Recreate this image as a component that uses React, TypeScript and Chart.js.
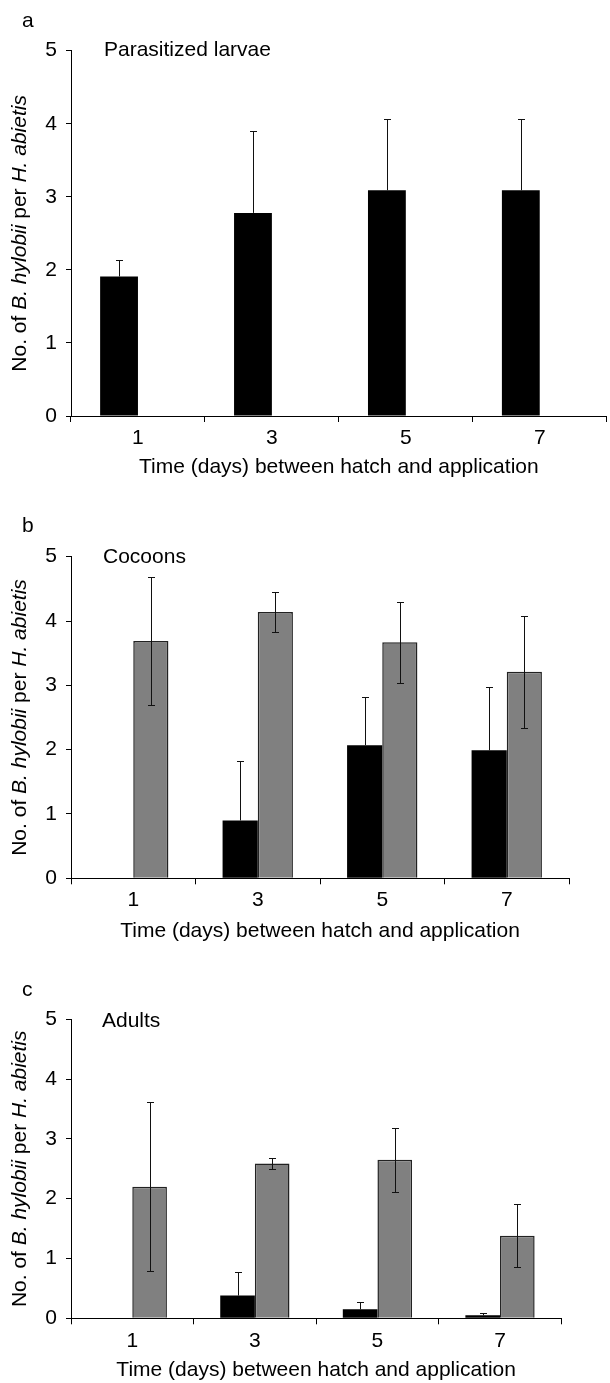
import React, { useEffect, useRef } from "react";
import { Chart, registerables } from "chart.js";

Chart.register(...registerables);

const CATEGORIES = ["1", "3", "5", "7"];

// Panel a: Parasitized larvae
const A_BLACK = [1.91, 2.78, 3.09, 3.09];
const A_BLACK_ERR = [0.22, 1.12, 0.97, 0.97];
const A_GRAY: (number | null)[] = [null, null, null, null];
const A_GRAY_ERR: (number | null)[] = [null, null, null, null];

// Panel b: Cocoons
const B_BLACK: (number | null)[] = [null, 0.9, 2.07, 1.99];
const B_BLACK_ERR: (number | null)[] = [null, 0.92, 0.75, 0.99];
const B_GRAY = [3.69, 4.14, 3.67, 3.21];
const B_GRAY_ERR = [0.99, 0.31, 0.63, 0.87];

// Panel c: Adults
const C_BLACK: (number | null)[] = [null, 0.38, 0.15, 0.05];
const C_BLACK_ERR: (number | null)[] = [null, 0.4, 0.13, 0.04];
const C_GRAY = [2.2, 2.59, 2.65, 1.38];
const C_GRAY_ERR = [1.41, 0.09, 0.53, 0.53];

const Y_TICKS = [0, 1, 2, 3, 4, 5];
const X_TITLE = "Time (days) between hatch and application";
const Y_TITLE_PARTS = [
  { t: "No. of ", i: false },
  { t: "B. hylobii", i: true },
  { t: " per ", i: false },
  { t: "H. abietis", i: true },
];

const FONT_FAMILY = '"Liberation Sans", Arial, Helvetica, sans-serif';
const FONT_SIZE = 21;

type PanelDef = {
  top: number;
  height: number;
  plotTop: number;
  plotBottom: number;
  plotRight: number;
  tickPad: number;
  titlePad: number;
  letter: string;
  letterBase: number;
  label: string;
  labelX: number;
  labelBase: number;
  black: (number | null)[];
  blackErr: (number | null)[];
  gray: (number | null)[];
  grayErr: (number | null)[];
};

const PANELS: PanelDef[] = [
  {
    top: 0, height: 480, plotTop: 50.7, plotBottom: 416, plotRight: 606.7,
    tickPad: 3.7, titlePad: 0,
    letter: "a", letterBase: 26.7, label: "Parasitized larvae", labelX: 104, labelBase: 56,
    black: A_BLACK, blackErr: A_BLACK_ERR, gray: A_GRAY, grayErr: A_GRAY_ERR,
  },
  {
    top: 480, height: 465, plotTop: 76.7, plotBottom: 398.3, plotRight: 569,
    tickPad: 3.1, titlePad: 1.3,
    letter: "b", letterBase: 51.7, label: "Cocoons", labelX: 103, labelBase: 83.3,
    black: B_BLACK, blackErr: B_BLACK_ERR, gray: B_GRAY, grayErr: B_GRAY_ERR,
  },
  {
    top: 945, height: 438, plotTop: 74.3, plotBottom: 373.3, plotRight: 561.3,
    tickPad: 4.8, titlePad: 0,
    letter: "c", letterBase: 51, label: "Adults", labelX: 102, labelBase: 81.7,
    black: C_BLACK, blackErr: C_BLACK_ERR, gray: C_GRAY, grayErr: C_GRAY_ERR,
  },
];

const errorBarPlugin = {
  id: "errorBars",
  afterDatasetsDraw(chart: any) {
    const ctx = chart.ctx;
    const yScale = chart.scales.y;
    ctx.save();
    ctx.strokeStyle = "#111";
    ctx.lineWidth = 1;
    chart.data.datasets.forEach((ds: any, d: number) => {
      const meta = chart.getDatasetMeta(d);
      const errs = ds.errors as (number | null)[];
      meta.data.forEach((el: any, i: number) => {
        const v = ds.data[i];
        const e = errs[i];
        if (v == null || e == null) return;
        const x = Math.round(el.x) + 0.5;
        const yTop = Math.round(yScale.getPixelForValue(v + e)) + 0.5;
        const yBot = ds.bothErrors
          ? Math.round(yScale.getPixelForValue(v - e)) + 0.5
          : el.y;
        ctx.beginPath();
        ctx.moveTo(x, yBot);
        ctx.lineTo(x, yTop);
        ctx.moveTo(x - 3.5, yTop);
        ctx.lineTo(x + 3.5, yTop);
        if (ds.bothErrors) {
          ctx.moveTo(x - 3.5, yBot);
          ctx.lineTo(x + 3.5, yBot);
        }
        ctx.stroke();
      });
    });
    ctx.restore();
  },
};

const textPlugin = {
  id: "panelTexts",
  afterDraw(chart: any, _args: any, opts: any) {
    const ctx = chart.ctx;
    const area = chart.chartArea;
    ctx.save();
    ctx.fillStyle = "#000";
    ctx.textBaseline = "alphabetic";
    ctx.textAlign = "left";
    ctx.font = `${FONT_SIZE}px ${FONT_FAMILY}`;
    ctx.fillText(opts.letter, 22, opts.letterBase);
    ctx.fillText(opts.label, opts.labelX, opts.labelBase);

    // rotated y-axis title with italic species names
    const normal = `${FONT_SIZE}px ${FONT_FAMILY}`;
    const italic = `italic ${FONT_SIZE}px ${FONT_FAMILY}`;
    let total = 0;
    const widths = Y_TITLE_PARTS.map((p) => {
      ctx.font = p.i ? italic : normal;
      const w = ctx.measureText(p.t).width;
      total += w;
      return w;
    });
    ctx.translate(20.5, (area.top + area.bottom) / 2);
    ctx.rotate(-Math.PI / 2);
    ctx.textBaseline = "middle";
    let x = -total / 2;
    Y_TITLE_PARTS.forEach((p, k) => {
      ctx.font = p.i ? italic : normal;
      ctx.fillText(p.t, x, 0);
      x += widths[k];
    });
    ctx.restore();
  },
};

function Panel({ def }: { def: PanelDef }) {
  const ref = useRef<HTMLCanvasElement | null>(null);
  useEffect(() => {
    if (!ref.current) return;
    const font = { family: FONT_FAMILY, size: FONT_SIZE, lineHeight: 1.2 };
    const chart = new Chart(ref.current, {
      type: "bar",
      data: {
        labels: CATEGORIES,
        datasets: [
          {
            data: def.black,
            errors: def.blackErr,
            bothErrors: false,
            backgroundColor: "#000000",
            borderColor: "#000000",
            borderWidth: 0,
          } as any,
          {
            data: def.gray,
            errors: def.grayErr,
            bothErrors: true,
            backgroundColor: "#808080",
            borderColor: "#222222",
            borderWidth: 1.5,
          } as any,
        ],
      },
      options: {
        responsive: false,
        animation: false,
        devicePixelRatio: 1,
        layout: {
          padding: { top: def.plotTop, right: 610 - def.plotRight, left: 0, bottom: 0 },
        },
        plugins: {
          legend: { display: false },
          tooltip: { enabled: false },
          panelTexts: { letter: def.letter, letterBase: def.letterBase, label: def.label, labelX: def.labelX, labelBase: def.labelBase },
        } as any,
        datasets: {
          bar: { categoryPercentage: 0.565, barPercentage: 1 },
        },
        scales: {
          x: {
            type: "category",
            offset: true,
            grid: {
              display: true,
              offset: true,
              drawOnChartArea: false,
              drawTicks: true,
              tickLength: 6,
              color: "#000",
              lineWidth: 1,
            },
            border: { display: true, color: "#000", width: 1 },
            ticks: { color: "#000", font, padding: def.tickPad, maxRotation: 0 },
            title: {
              display: true,
              text: X_TITLE,
              color: "#000",
              font,
              padding: { top: 0, bottom: def.titlePad },
            },
            afterFit: (scale: any) => {
              scale.height = def.height - def.plotBottom;
            },
          },
          y: {
            min: 0,
            max: 5,
            afterBuildTicks: (scale: any) => {
              scale.ticks = Y_TICKS.map((v) => ({ value: v }));
            },
            grid: {
              display: true,
              drawOnChartArea: false,
              drawTicks: true,
              tickLength: 5,
              color: "#000",
              lineWidth: 1,
            },
            border: { display: true, color: "#000", width: 1 },
            ticks: { color: "#000", font, padding: 9 },
            afterFit: (scale: any) => {
              scale.width = 71;
            },
          },
        },
      } as any,
      plugins: [errorBarPlugin, textPlugin],
    });
    return () => chart.destroy();
  }, [def]);
  return (
    <canvas
      ref={ref}
      width={610}
      height={def.height}
      style={{ position: "absolute", left: 0, top: def.top, width: 610, height: def.height }}
    />
  );
}

export default function App() {
  return (
    <div style={{ position: "absolute", left: 0, top: 0, width: 610, height: 1383, background: "#fff" }}>
      {PANELS.map((p) => (
        <Panel key={p.letter} def={p} />
      ))}
    </div>
  );
}
